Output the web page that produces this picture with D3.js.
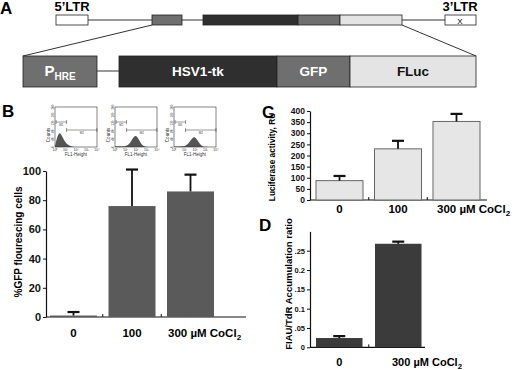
<!DOCTYPE html>
<html>
<head>
<meta charset="utf-8">
<script src="https://cdn.jsdelivr.net/npm/d3@7"></script>
<style>
  body { margin: 0; background: #fff; }
  svg { display: block; font-family: Arial, "Liberation Sans", sans-serif; font-weight: bold; }
</style>
</head>
<body>
<div id="chart"></div>
<script>
/* Vector schematic + three bar panels (GFP %, luciferase, FIAU/TdR) */

// ---- data ----
const vectorLabels = ["5'LTR", "PHRE", "HSV1-tk", "GFP", "FLuc", "3'LTR"];
const vectorStart = [0, 96, 147, 242, 284, 389];
const vectorEnd = [32, 126, 242, 284, 346, 420];

const cassetteLabels = ["PHRE", "HSV1-tk", "GFP", "FLuc"];
const cassetteStart = [0, 96, 254, 327];
const cassetteEnd = [74, 254, 327, 453];

const doseLabels = ["0", "100", "300"];
const gfpValues = [1, 76, 86];
const gfpErrors = [2.4, 25, 11.5];

const lucValues = [87, 230, 353];
const lucErrors = [21, 36, 34];

const fiauLabels = ["0", "300"];
const fiauValues = [0.024, 0.268];
const fiauErrors = [0.005, 0.0055];

const gfpTicks = [0, 20, 40, 60, 80, 100];
const lucTicks = [0, 50, 100, 150, 200, 250, 300, 350, 400];
const fiauTicks = [0, 0.05, 0.1, 0.15, 0.2, 0.25];
const fiauTickText = ["0", ".05", "0.1", ".15", "0.2", ".25"];

// flow cytometry insets: counts per quarter decade, 10^0 .. 10^4
const flowDecades = d3.range(0, 4.01, 0.25);
const flow0 = [5, 60, 75, 45, 22, 10, 4, 1, 0, 0, 0, 0, 0, 0, 0, 0, 0];
const flow100 = [2, 4, 3, 3, 4, 9, 24, 50, 60, 40, 14, 4, 1, 0, 0, 0, 0];
const flow300 = [2, 3, 3, 3, 4, 10, 28, 46, 52, 32, 12, 3, 1, 0, 0, 0, 0];
const flowTicks = [0, 40, 80, 120, 160, 200];

const W = 520, H = 370;
const fill = { dark: "#2f2f2f", mid: "#6f6f6f", light: "#e4e4e4" };
const partFill = { "PHRE": fill.mid, "HSV1-tk": fill.dark, "GFP": fill.mid, "FLuc": fill.light, "5'LTR": "#fff", "3'LTR": "#fff" };

const svg = d3.select("#chart").append("svg")
  .attr("width", W)
  .attr("height", H);

function panelLetter(t, x, y) {
  svg.append("text").attr("x", x).attr("y", y).attr("font-size", 17).text(t);
}

// ---- A: vector ----
panelLetter("A", 0, 14);
const vx = d3.scaleLinear().domain([0, 420]).range([56, 476]);
const cx = d3.scaleLinear().domain([0, 453]).range([23, 476]);

svg.append("line")
  .attr("x1", vx(vectorEnd[0])).attr("x2", vx(vectorStart[5]))
  .attr("y1", 20).attr("y2", 20)
  .attr("stroke", "#333").attr("stroke-width", 1);

svg.selectAll(".vbox")
  .data(vectorLabels)
  .join("rect")
  .attr("x", (d, i) => vx(vectorStart[i]))
  .attr("y", 15)
  .attr("width", (d, i) => vx(vectorEnd[i]) - vx(vectorStart[i]))
  .attr("height", 10)
  .attr("fill", d => partFill[d])
  .attr("stroke", "#222")
  .attr("stroke-width", 0.8);

svg.append("text").attr("x", vx(16)).attr("y", 11).attr("text-anchor", "middle")
  .attr("font-size", 13).text("5\u2019LTR");
svg.append("text").attr("x", vx(404)).attr("y", 11).attr("text-anchor", "middle")
  .attr("font-size", 13).text("3\u2019LTR");
svg.append("text").attr("x", vx(404)).attr("y", 23.5).attr("text-anchor", "middle")
  .attr("font-size", 8).attr("font-weight", "normal").text("X");

// expansion lines
svg.append("line")
  .attr("x1", vx(vectorStart[1])).attr("y1", 25)
  .attr("x2", cx(cassetteStart[0])).attr("y2", 56)
  .attr("stroke", "#333");
svg.append("line")
  .attr("x1", vx(vectorEnd[4])).attr("y1", 25)
  .attr("x2", cx(cassetteEnd[3])).attr("y2", 56)
  .attr("stroke", "#333");

svg.append("line")
  .attr("x1", cx(cassetteEnd[0])).attr("x2", cx(cassetteStart[1]))
  .attr("y1", 71).attr("y2", 71)
  .attr("stroke", "#333");

svg.selectAll(".cbox")
  .data(cassetteLabels)
  .join("rect")
  .attr("x", (d, i) => cx(cassetteStart[i]))
  .attr("y", 56)
  .attr("width", (d, i) => cx(cassetteEnd[i]) - cx(cassetteStart[i]))
  .attr("height", 31)
  .attr("fill", d => partFill[d])
  .attr("stroke", "#222")
  .attr("stroke-width", 0.8);

const cLab = svg.selectAll(".clab")
  .data(cassetteLabels)
  .join("text")
  .attr("x", (d, i) => cx((cassetteStart[i] + cassetteEnd[i]) / 2))
  .attr("y", 76)
  .attr("text-anchor", "middle")
  .attr("font-size", 13.5)
  .attr("fill", d => d === "FLuc" ? "#111" : "#fff");
cLab.filter(d => d !== "PHRE").text(d => d);
cLab.filter(d => d === "PHRE").call(t => {
  t.append("tspan").attr("font-size", 15).text("P");
  t.append("tspan").attr("font-size", 10).attr("dy", 4).text("HRE");
});

// ---- B insets ----
function flowInset(x0, counts) {
  const w = 42, h = 40, y0 = 107;
  const x = d3.scaleLinear().domain([0, 4]).range([x0, x0 + w]);
  const y = d3.scaleLinear().domain([0, 200]).range([y0 + h, y0]);
  const g = svg.append("g").attr("font-weight", "normal");

  const area = d3.area()
    .x((d, i) => x(flowDecades[i]))
    .y0(y(0))
    .y1(d => y(d))
    .curve(d3.curveBasis);
  g.append("path").datum(counts).attr("d", area).attr("fill", "#555");

  g.append("rect").attr("x", x0).attr("y", y0).attr("width", w).attr("height", h)
    .attr("fill", "none").attr("stroke", "#333").attr("stroke-width", 0.6);

  // markers M1 / M2
  [[0.1, 1.1, 125, "M1"], [1.1, 4, 85, "M2"]].forEach(m => {
    g.append("path")
      .attr("d", `M${x(m[0])},${y(m[2]) - 2}V${y(m[2]) + 2}M${x(m[0])},${y(m[2])}H${x(m[1])}M${x(m[1])},${y(m[2]) - 2}V${y(m[2]) + 2}`)
      .attr("stroke", "#333").attr("stroke-width", 0.5).attr("fill", "none");
    g.append("text").attr("x", (x(m[0]) + x(m[1])) / 2).attr("y", y(m[2]) + 4)
      .attr("text-anchor", "middle").attr("font-size", 3).attr("fill", "#444").text(m[3]);
  });

  g.selectAll(".xt").data(d3.range(0, 5)).join("text")
    .attr("x", d => x(d)).attr("y", y0 + h + 4)
    .attr("text-anchor", "middle").attr("font-size", 3.5).attr("fill", "#333")
    .text(d => "10" + "\u2070\u00b9\u00b2\u00b3\u2074"[d]);
  g.append("text").attr("x", x0 + w / 2).attr("y", y0 + h + 9)
    .attr("text-anchor", "middle").attr("font-size", 4.5).attr("fill", "#333").text("FL1-Height");

  g.selectAll(".yt").data(flowTicks).join("text")
    .attr("transform", d => `translate(${x0 - 1.5},${y(d)}) rotate(-90)`)
    .attr("text-anchor", "middle").attr("font-size", 3).attr("fill", "#333")
    .text(d => d);
  g.append("text")
    .attr("transform", `translate(${x0 - 5},${y0 + h / 2 + 8}) rotate(-90)`)
    .attr("text-anchor", "middle").attr("font-size", 4.5).attr("fill", "#333").text("Counts");
}

panelLetter("B", 2, 117);
flowInset(55, flow0);
flowInset(115, flow100);
flowInset(174, flow300);

// ---- bar panel helper ----
function barPanel(o) {
  const g = svg.append("g");
  const gap = o.step - o.barW;
  const n = o.cats.length;
  const x = d3.scaleBand()
    .domain(o.cats)
    .range([o.firstBar - gap / 2, o.firstBar - gap / 2 + n * o.step])
    .paddingInner(gap / o.step)
    .paddingOuter(gap / o.step / 2);
  const y = d3.scaleLinear().domain([0, o.yMax]).range([o.yBottom, o.yTop]);

  // y axis
  g.append("g")
    .attr("transform", `translate(${o.axisX},0)`)
    .call(d3.axisLeft(y).tickValues(o.ticks).tickFormat((d, i) => o.tickText ? o.tickText[i] : d)
      .tickSize(3).tickSizeOuter(0).tickPadding(2))
    .call(a => a.select(".domain").attr("stroke", "#111").attr("stroke-width", 1.2))
    .call(a => a.selectAll("line").attr("stroke", "#111"))
    .call(a => a.selectAll("text").attr("font-family", null).attr("font-size", o.tickSize).attr("fill", "#111"));

  // x axis
  g.append("line")
    .attr("x1", o.axisX).attr("x2", o.axisEnd)
    .attr("y1", o.yBottom).attr("y2", o.yBottom)
    .attr("stroke", "#111").attr("stroke-width", 1.2);
  g.selectAll(".sep").data(o.cats.slice(0, n - 1)).join("line")
    .attr("x1", d => x(d) + x.bandwidth() + gap / 2)
    .attr("x2", d => x(d) + x.bandwidth() + gap / 2)
    .attr("y1", o.yBottom).attr("y2", o.yBottom - 3)
    .attr("stroke", "#111");

  // bars
  g.selectAll(".bar").data(o.values).join("rect")
    .attr("x", (d, i) => x(o.cats[i]))
    .attr("y", d => y(d))
    .attr("width", x.bandwidth())
    .attr("height", d => o.yBottom - y(d))
    .attr("fill", o.color)
    .attr("stroke", o.stroke || "none")
    .attr("stroke-width", 1);

  // error bars (upper only)
  o.values.forEach((v, i) => {
    const mx = x(o.cats[i]) + x.bandwidth() / 2;
    g.append("line").attr("x1", mx).attr("x2", mx)
      .attr("y1", y(v)).attr("y2", y(v + o.errors[i]))
      .attr("stroke", "#111").attr("stroke-width", 1.8);
    g.append("line").attr("x1", mx - 6).attr("x2", mx + 6)
      .attr("y1", y(v + o.errors[i])).attr("y2", y(v + o.errors[i]))
      .attr("stroke", "#111").attr("stroke-width", 2.2);
  });

  // category labels
  o.cats.forEach((c, i) => {
    const mx = x(c) + x.bandwidth() / 2;
    if (i < n - 1) {
      g.append("text").attr("x", mx).attr("y", o.labelY)
        .attr("text-anchor", "middle").attr("font-size", o.labelSize).text(c);
    } else {
      const t = g.append("text").attr("x", x(c) + o.lastShift).attr("y", o.labelY)
        .attr("font-size", o.labelSize);
      t.append("tspan").text(c + " \u00b5M CoCl");
      t.append("tspan").attr("font-size", o.labelSize * 0.7).attr("dy", 2.5).text("2");
    }
  });

  // y title
  g.append("text")
    .attr("transform", `translate(${o.titleX},${o.titleY}) rotate(-90)`)
    .attr("text-anchor", "middle")
    .attr("font-size", o.titleSize)
    .text(o.title);
}

// ---- B: GFP ----
barPanel({
  cats: doseLabels, values: gfpValues, errors: gfpErrors,
  firstBar: 50, step: 58.5, barW: 47,
  axisX: 46, axisEnd: 246, yTop: 171, yBottom: 317, yMax: 100,
  ticks: gfpTicks, tickSize: 11,
  color: "#5a5a5a",
  labelY: 337, labelSize: 11.5, lastShift: 1,
  title: "%GFP flourescing cells", titleX: 22, titleY: 242, titleSize: 10
});

// ---- C: luciferase ----
panelLetter("C", 262, 118);
barPanel({
  cats: doseLabels, values: lucValues, errors: lucErrors,
  firstBar: 316, step: 58.5, barW: 47,
  axisX: 310, axisEnd: 487, yTop: 111, yBottom: 200, yMax: 400,
  ticks: lucTicks, tickSize: 8.5,
  color: "#e6e6e6", stroke: "#666",
  labelY: 213, labelSize: 11.5, lastShift: 4,
  title: "Luciferase activity, RU", titleX: 275, titleY: 157, titleSize: 8.3
});

// ---- D: FIAU/TdR ----
panelLetter("D", 259, 231);
barPanel({
  cats: fiauLabels, values: fiauValues, errors: fiauErrors,
  firstBar: 316, step: 59, barW: 46.5,
  axisX: 310, axisEnd: 425, yTop: 231.4, yBottom: 347.3, yMax: 0.3,
  ticks: fiauTicks, tickText: fiauTickText, tickSize: 7.5,
  color: "#3b3b3b",
  labelY: 366, labelSize: 11, lastShift: 17,
  title: "FIAU/TdR Accumulation ratio", titleX: 292, titleY: 284, titleSize: 9.5
});
</script>
</body>
</html>
